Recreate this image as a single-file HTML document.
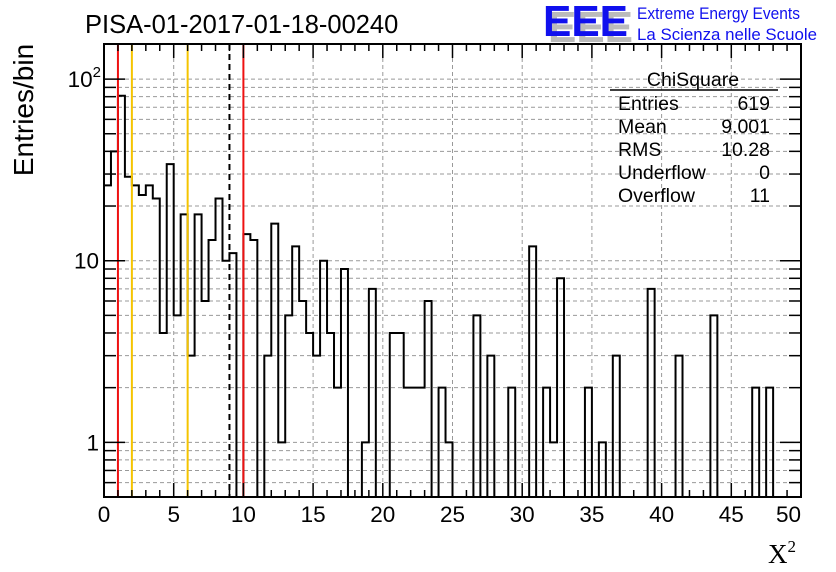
<!DOCTYPE html>
<html><head><meta charset="utf-8"><style>
body{margin:0;background:#fff;}
svg{display:block;font-family:"Liberation Sans",sans-serif;}
</style></head><body>
<svg id="chart" width="836" height="572">
<text x="85" y="33" font-size="25.5">PISA-01-2017-01-18-00240</text>
<g>
<text x="548" y="42" font-size="44" font-weight="bold" fill="#bbb" textLength="85" lengthAdjust="spacingAndGlyphs">EEE</text>
<text x="543" y="36" font-size="44" font-weight="bold" fill="#1010ee" textLength="85" lengthAdjust="spacingAndGlyphs">EEE</text>
<text x="637" y="19" font-size="16.5" fill="#1010ee" textLength="163" lengthAdjust="spacingAndGlyphs">Extreme Energy Events</text>
<text x="637" y="40" font-size="16.5" fill="#1010ee" textLength="180" lengthAdjust="spacingAndGlyphs">La Scienza nelle Scuole</text>
</g>
<text transform="translate(33,110) rotate(-90)" text-anchor="middle" font-size="28">Entries/bin</text>
<text x="768" y="563" font-size="27" font-family="Liberation Serif, serif">X<tspan font-size="17" dy="-11">2</tspan></text>
<g id="grid"></g><g id="marks"></g><g id="axes"></g>
<g font-size="19.5">
<text x="693" y="86" text-anchor="middle">ChiSquare</text>
<line x1="610" y1="90" x2="778" y2="90" stroke="#000" stroke-width="1.5"/>
<text x="618" y="110">Entries</text><text x="770" y="110" text-anchor="end">619</text>
<text x="618" y="133">Mean</text><text x="770" y="133" text-anchor="end">9.001</text>
<text x="618" y="156">RMS</text><text x="770" y="156" text-anchor="end">10.28</text>
<text x="618" y="179">Underflow</text><text x="770" y="179" text-anchor="end">0</text>
<text x="618" y="202">Overflow</text><text x="770" y="202" text-anchor="end">11</text>
</g>
</svg>
<script>
const binCounts=[26,40,81,29,26,23,26,22,4,34,5,18,3,18,6,13,22,10,11,0,14,13,0,3,16,1,5,12,6,4,3,10,4,2,9,0,
0,1,7,0,0,4,4,2,2,2,6,0,2,1,0,0,0,5,0,3,0,0,2,0,0,12,0,2,1,8,0,0,0,2,
0,1,0,3,0,0,0,0,7,0,0,0,3,0,0,0,0,5,0,0,0,0,0,2,0,2,0,0,0,0];
const binWidth=0.5;
const xTickLabels=[0,5,10,15,20,25,30,35,40,45,50];
const yDecades=[1,10,100];
const redLines=[1,10];
const yellowLines=[2,6];
const dashedLines=[9];
const NS="http://www.w3.org/2000/svg";
const X0=104,X1=801,Y0=497,Y1=44,XMIN=0,XMAX=50,YMIN=0.5,YMAX=156;
const sx=v=>X0+(v-XMIN)/(XMAX-XMIN)*(X1-X0);
const sy=v=>Y0-(Math.log10(v)-Math.log10(YMIN))/(Math.log10(YMAX)-Math.log10(YMIN))*(Y0-Y1);
function el(t,a,p){const e=document.createElementNS(NS,t);for(const k in a)e.setAttribute(k,a[k]);p.appendChild(e);return e;}
const grid=document.getElementById('grid'),marks=document.getElementById('marks'),axes=document.getElementById('axes');
xTickLabels.forEach(v=>{if(v>0&&v<50){const g=el('line',{x1:sx(v),x2:sx(v),y1:Y1,y2:Y0,stroke:'#999','stroke-dasharray':'4,3','stroke-width':1},grid);

}});
const yTicks=[];
for(let d=0.1;d<=100;d*=10){for(let m=1;m<10;m++){const v=Math.round(d*m*100)/100;if(v>=YMIN&&v<=YMAX)yTicks.push(v);}}
yTicks.forEach(v=>{const g=el('line',{x1:X0,x2:X1,y1:sy(v),y2:sy(v),stroke:'#999','stroke-dasharray':'4,3','stroke-width':1},grid);

});
let d='';
binCounts.forEach((c,i)=>{const xl=sx(i*binWidth),xr=sx((i+1)*binWidth);const h=c>0?c:YMIN;
if(i===0)d+=`M${xl},${sy(h)}`;else d+=`L${xl},${sy(h)}`;d+=`L${xr},${sy(h)}`;});
const hp=el('path',{d:d,fill:'none',stroke:'#000','stroke-width':2},marks);


binCounts.forEach((c,i)=>{const r=el('rect',{x:sx(i*binWidth),y:sy(Math.max(c,YMIN)),width:sx(binWidth)-sx(0),height:Y0-sy(Math.max(c,YMIN)),fill:'transparent'},marks);

});
redLines.forEach(v=>{const l=el('line',{x1:sx(v),x2:sx(v),y1:Y1,y2:Y0,stroke:'#ee1111','stroke-width':2},marks);

});
yellowLines.forEach(v=>{const l=el('line',{x1:sx(v),x2:sx(v),y1:Y1,y2:Y0,stroke:'#f5c400','stroke-width':2},marks);

});
dashedLines.forEach(v=>{const l=el('line',{x1:sx(v),x2:sx(v),y1:Y1,y2:Y0,stroke:'#000','stroke-width':2,'stroke-dasharray':'6,4'},marks);

});
const fr=el('rect',{x:X0,y:Y1,width:X1-X0,height:Y0-Y1,fill:'none',stroke:'#000','stroke-width':2},axes);


for(let v=0;v<=50;v++){const L=v%5===0?14:7;
el('line',{x1:sx(v),x2:sx(v),y1:Y0,y2:Y0-L,stroke:'#000','stroke-width':1.5},axes);
el('line',{x1:sx(v),x2:sx(v),y1:Y1,y2:Y1+L,stroke:'#000','stroke-width':1.5},axes);}
yTicks.forEach(v=>{const L=yDecades.includes(v)?21:12;
el('line',{x1:X0,x2:X0+L,y1:sy(v),y2:sy(v),stroke:'#000','stroke-width':1.5},axes);
el('line',{x1:X1,x2:X1-L,y1:sy(v),y2:sy(v),stroke:'#000','stroke-width':1.5},axes);});
xTickLabels.forEach((v,i)=>{const last=i===xTickLabels.length-1;
const t=el('text',{x:last?sx(v):sx(v),y:522,'text-anchor':last?'end':'middle','font-size':22.5},axes);t.textContent=v;

});
yDecades.forEach(v=>{const t=el('text',{x:99,y:sy(v)+8,'text-anchor':'end','font-size':22.5},axes);
if(v===100){t.textContent='10';const s=el('tspan',{'font-size':15,dy:-10},t);s.textContent='2';t.setAttribute('x',101);}else t.textContent=v;

});
</script>
</body></html>
